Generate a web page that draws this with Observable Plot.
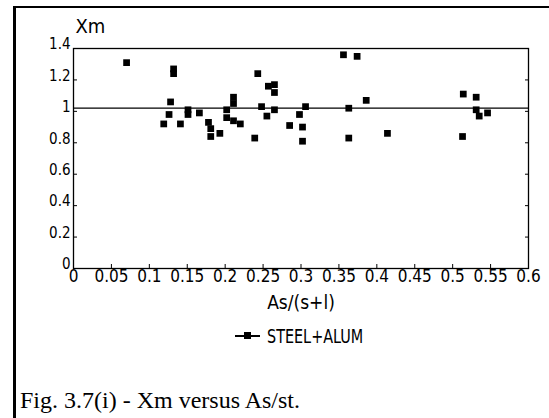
<!DOCTYPE html>
<html><head><meta charset="utf-8">
<script src="https://cdn.jsdelivr.net/npm/d3@7"></script>
<script src="https://cdn.jsdelivr.net/npm/@observablehq/plot@0.6"></script>
<style>
body{margin:0;background:#fff;width:549px;height:418px;overflow:hidden;position:relative;}
.cond{font-family:"Liberation Sans Narrow","DejaVu Sans Condensed","DejaVu Sans",sans-serif;font-stretch:condensed;}
#box{position:absolute;left:13px;top:6px;width:600px;height:430px;border-left:3px solid #000;border-top:2px solid #000;box-sizing:border-box;}
#chart{position:absolute;left:0;top:0;}
#legend{position:absolute;left:235px;top:326px;display:flex;align-items:center;}
#sw{position:relative;width:25px;height:2px;background:#000;}
#sw i{position:absolute;left:9px;top:-3px;width:7px;height:7px;background:#000;}
#lt{margin-left:7px;font-size:20px;line-height:20px;display:inline-block;transform:scaleX(0.8);transform-origin:left center;color:#000;}
#cap{position:absolute;left:20px;top:388px;font-family:"Liberation Serif","Times New Roman",serif;font-size:24px;line-height:1;color:#000;white-space:nowrap;}
</style></head>
<body>
<div id="box"></div>
<div id="chart"></div>
<div id="legend" class="cond"><div id="sw"><i></i></div><span id="lt"></span></div>
<div id="cap"></div>
<script>
// Data (STEEL+ALUM series)
const asRatio = [0.070,0.132,0.132,0.128,0.126,0.119,0.141,0.151,0.151,0.166,0.178,0.181,0.181,0.193,0.202,0.202,0.211,0.211,0.211,0.220,0.239,0.243,0.248,0.255,0.257,0.265,0.265,0.265,0.285,0.298,0.302,0.302,0.306,0.356,0.374,0.363,0.363,0.386,0.414,0.514,0.531,0.531,0.535,0.546,0.513];
const xm      = [1.31,1.27,1.24,1.06,0.98,0.92,0.92,1.01,0.98,0.99,0.93,0.89,0.84,0.86,1.01,0.96,1.09,1.05,0.94,0.92,0.83,1.24,1.03,0.97,1.16,1.17,1.12,1.01,0.91,0.98,0.90,0.81,1.03,1.36,1.35,1.02,0.83,1.07,0.86,1.11,1.09,1.01,0.97,0.99,0.84];
const refLine = [1.02];
const xTicks = [0,0.05,0.1,0.15,0.2,0.25,0.3,0.35,0.4,0.45,0.5,0.55,0.6];
const yTicks = [0,0.2,0.4,0.6,0.8,1,1.2,1.4];
const xTitle = "As/(s+l)";
const yTitle = "Xm";
const seriesName = "STEEL+ALUM";
const caption = "Fig. 3.7(i) - Xm versus As/st.";

const data = asRatio.map((x, i) => ({x, y: xm[i]}));
const fontStack = '"Liberation Sans Narrow","DejaVu Sans Condensed","DejaVu Sans",sans-serif';

const chart = Plot.plot({
  width: 549,
  height: 320,
  marginLeft: 73,
  marginRight: 21,
  marginTop: 48,
  marginBottom: 52,
  style: {fontFamily: fontStack, fontStretch: "condensed", fontSize: "15px", color: "#000", background: "transparent"},
  x: {domain: [0, 0.6]},
  y: {domain: [0, 1.4]},
  marks: [
    Plot.frame({stroke: "#000", strokeWidth: 1.3}),
    Plot.ruleY(refLine, {stroke: "#000", strokeWidth: 1.3}),
    Plot.dot(data, {x: "x", y: "y", symbol: "square", r: 3.8, fill: "#000", stroke: "none"}),
    Plot.axisY({ticks: yTicks, tickSize: 0, tickPadding: 3, dy: -4, tickFormat: d => String(d), label: null, fontSize: 15}),
    Plot.axisY({ticks: yTicks, tickSize: -4, tickFormat: () => "", label: null}),
    Plot.axisY({anchor: "right", ticks: yTicks, tickSize: -4, tickFormat: () => "", label: null}),
    Plot.axisX({ticks: xTicks, tickSize: 0, tickPadding: 1, tickFormat: d => String(d), label: null, fontSize: 17}),
    Plot.axisX({ticks: xTicks, tickSize: -4, tickFormat: () => "", label: null}),
    Plot.text([yTitle], {frameAnchor: "top-left", dx: 2, dy: -30, fontSize: 20}),
    Plot.text([xTitle], {frameAnchor: "bottom", dy: 40, fontSize: 19})
  ]
});
document.getElementById("chart").appendChild(chart);
document.getElementById("lt").textContent = seriesName;
document.getElementById("cap").textContent = caption;
</script>
</body></html>
